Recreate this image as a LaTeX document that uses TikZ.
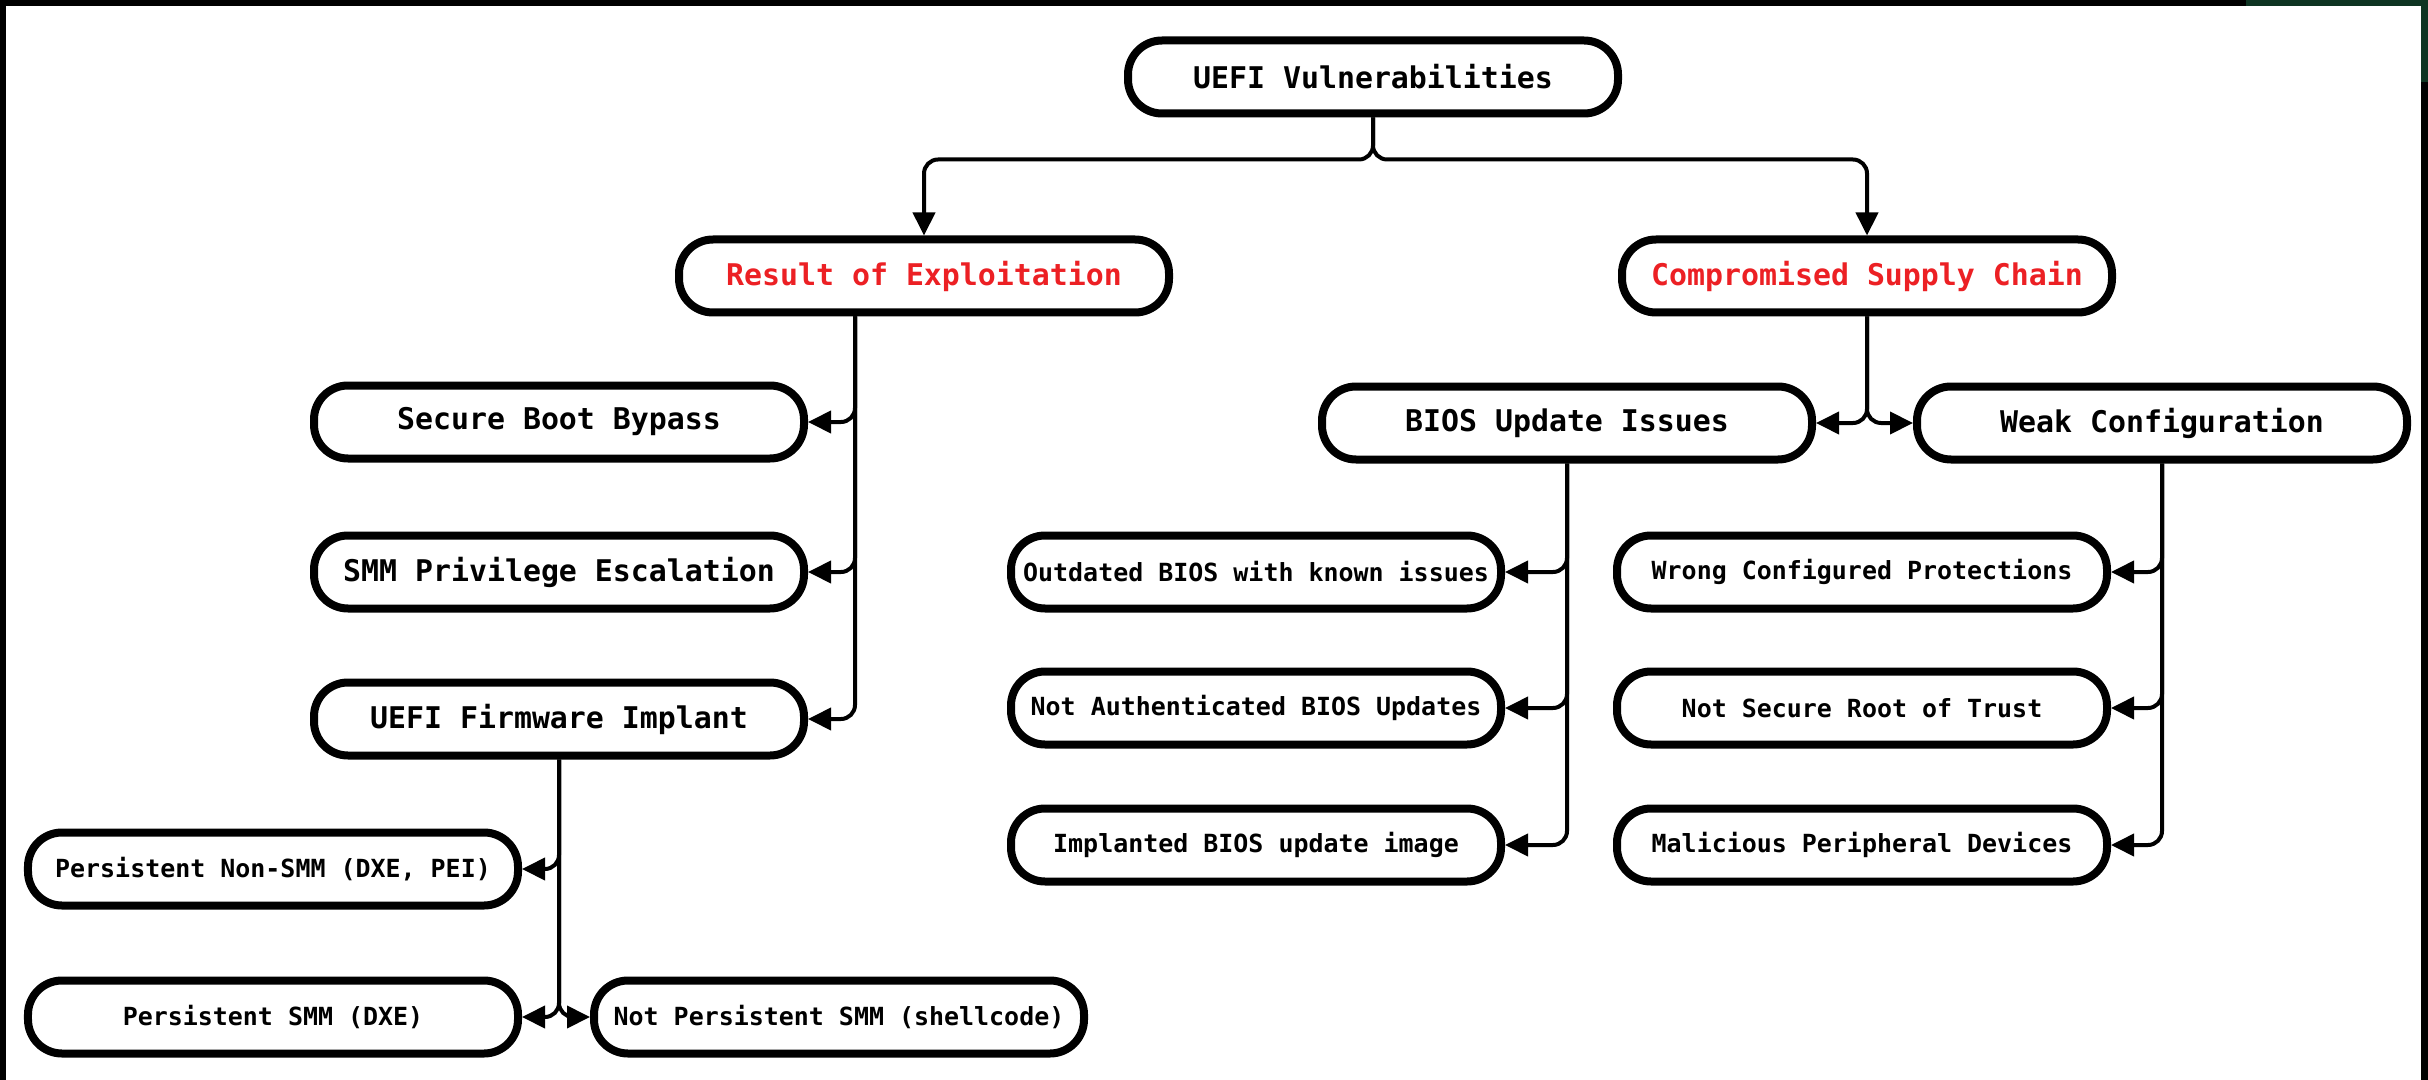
\documentclass[tikz,border=0pt]{standalone}
\usepackage{fontspec}
\newfontfamily\boxfont{DejaVu Sans Mono}
\usetikzlibrary{positioning, arrows.meta}

\definecolor{hotred}{RGB}{236,32,36}
\definecolor{leafgreen}{RGB}{14,52,34}

\begin{document}
\begin{tikzpicture}[
    on grid,
    branch/.style={
        draw,
        rectangle,
        rounded corners=0.34cm,
        line width=0.08cm,
        minimum width=4.9cm,
        minimum height=0.73cm,
        align=center,
        fill=white,
        font=\boxfont\bfseries\fontsize{8.5}{10}\selectfont
    },
    leaf/.style={
        branch,
        font=\boxfont\bfseries\fontsize{7.1}{9}\selectfont
    },
    hot/.style={
        text=hotred
    },
    arrow/.style={
        ->,
        >={Triangle[length=0.23cm, width=0.22cm]},
        line width=0.04cm,
        rounded corners=4pt
    }
]

\useasboundingbox (0,0) rectangle (24.28,-10.80);

% Frame
\fill[black] (0,0) rectangle (24.28,-0.06);
\fill[black] (0,0) rectangle (0.06,-10.80);
\fill[black] (24.21,0) rectangle (24.28,-10.80);
\fill[leafgreen] (22.46,0) rectangle (24.28,-0.06);
\fill[leafgreen] (24.21,0) rectangle (24.28,-0.82);

% Root and second level
\node[branch] (top) at (13.73,-0.77) {UEFI Vulnerabilities};
\node[branch, hot, below left=1.99cm and 4.49cm of top] (res) {Result of Exploitation};
\node[branch, hot, below right=1.99cm and 4.94cm of top] (comp) {Compromised Supply Chain};

% Result of exploitation
\node[branch, below left=1.46cm and 3.65cm of res] (sbb) {Secure Boot Bypass};
\node[branch, below=1.50cm of sbb] (smm) {SMM Privilege Escalation};
\node[branch, below=1.47cm of smm] (ufi) {UEFI Firmware Implant};

\node[leaf, below left=1.50cm and 2.86cm of ufi] (pns) {Persistent Non-SMM (DXE, PEI)};
\node[leaf, below=1.48cm of pns] (psm) {Persistent SMM (DXE)};
\node[leaf, right=5.66cm of psm] (nps) {Not Persistent SMM (shellcode)};

% Compromised supply chain
\node[branch, below left=1.47cm and 3.00cm of comp] (bios) {BIOS Update Issues};
\node[branch, below right=1.47cm and 2.95cm of comp] (weak) {Weak Configuration};

\node[leaf, below left=1.49cm and 3.11cm of bios] (outd) {Outdated BIOS with known issues};
\node[leaf, below=1.36cm of outd] (nauth) {Not Authenticated BIOS Updates};
\node[leaf, below=1.37cm of nauth] (impl) {Implanted BIOS update image};

\node[leaf, below left=1.49cm and 3.00cm of weak] (wcp) {Wrong Configured Protections};
\node[leaf, below=1.36cm of wcp] (nsr) {Not Secure Root of Trust};
\node[leaf, below=1.37cm of nsr] (mpd) {Malicious Peripheral Devices};

% Connections
\draw[arrow] (top.south) -- ++(0,-0.42) -| (res.north);
\draw[arrow] (top.south) -- ++(0,-0.42) -| (comp.north);

\draw[arrow] ([xshift=-0.69cm]res.south) |- (sbb.east);
\draw[arrow] ([xshift=-0.69cm]res.south) |- (smm.east);
\draw[arrow] ([xshift=-0.69cm]res.south) |- (ufi.east);

\draw[arrow] (ufi.south) |- (pns.east);
\draw[arrow] (ufi.south) |- (psm.east);
\draw[arrow] (ufi.south) |- (nps.west);

\draw[arrow] (comp.south) |- (bios.east);
\draw[arrow] (comp.south) |- (weak.west);

\draw[arrow] (bios.south) |- (outd.east);
\draw[arrow] (bios.south) |- (nauth.east);
\draw[arrow] (bios.south) |- (impl.east);

\draw[arrow] (weak.south) |- (wcp.east);
\draw[arrow] (weak.south) |- (nsr.east);
\draw[arrow] (weak.south) |- (mpd.east);

\end{tikzpicture}
\end{document}
